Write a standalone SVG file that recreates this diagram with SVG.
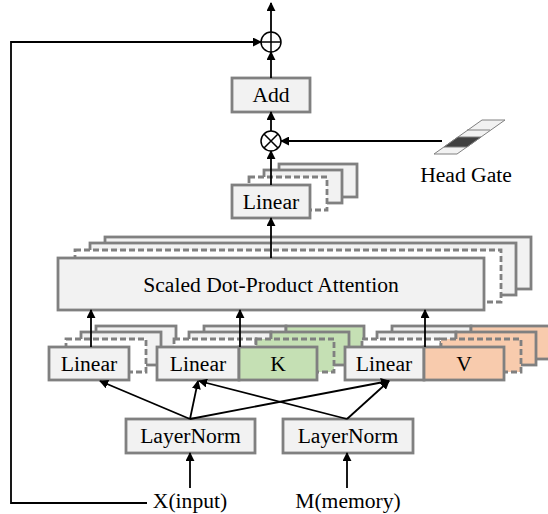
<svg xmlns="http://www.w3.org/2000/svg" width="548" height="514" viewBox="0 0 548 514">
<defs>
<style>
.b{fill:#f2f2f2;stroke:#808080;stroke-width:2.8}
.d{fill:#ffffff;stroke:#808080;stroke-width:2.8;stroke-dasharray:6 3}
.g{fill:#c5e0b4;stroke:#808080;stroke-width:2.8}
.gd{fill:#c5e0b4;stroke:#808080;stroke-width:2.8;stroke-dasharray:6 3}
.p{fill:#f8cbad;stroke:#808080;stroke-width:2.8}
.pd{fill:#f8cbad;stroke:#808080;stroke-width:2.8;stroke-dasharray:6 3}
.t{font-family:"Liberation Serif","Times New Roman",serif;font-size:21.6px;fill:#000;text-anchor:middle}
.a{fill:none;stroke:#000;stroke-width:1.8;marker-end:url(#ah)}
</style>
<marker id="ah" viewBox="0 0 10 10" refX="9" refY="5" markerWidth="5" markerHeight="5" orient="auto" markerUnits="strokeWidth">
<path d="M0,0 L10,5 L0,10 z" fill="#000"/>
</marker>
</defs>

<g id="attention">
<rect class="b" x="105" y="237" width="426" height="52"/>
<rect class="b" x="90" y="243" width="426" height="52"/>
<rect class="d" x="75" y="250" width="426" height="52"/>
<rect class="b" x="58" y="258" width="426" height="52"/>
<text class="t" x="271" y="292">Scaled Dot-Product Attention</text>
</g>

<g id="linear-out">
<rect class="b" x="279" y="164" width="78" height="33"/>
<rect class="b" x="264" y="170" width="78" height="33"/>
<rect class="d" x="249" y="177" width="78" height="33"/>
<rect class="b" x="232" y="185" width="78" height="33"/>
<text class="t" x="271" y="209">Linear</text>
</g>

<g id="add">
<rect class="b" x="232" y="78" width="78" height="34"/>
<text class="t" x="271" y="102">Add</text>
</g>

<g id="plus">
<circle cx="271" cy="42" r="10" fill="#fff" stroke="#000" stroke-width="1.5"/>
<path d="M261,42 H281 M271,32 V52" stroke="#000" stroke-width="1.5"/>
</g>

<g id="times">
<circle cx="271" cy="141" r="10" fill="#fff" stroke="#000" stroke-width="1.5"/>
<path d="M264,134 L278,148 M278,134 L264,148" stroke="#000" stroke-width="1.5"/>
</g>

<g id="head-gate">
<polygon points="434,154 457,154 505,120 482,120" fill="#f2f2f2" stroke="#808080" stroke-width="1"/>
<polygon points="444,147 467,147 481,137 458,137" fill="#404040" stroke="#808080" stroke-width="1"/>
<line x1="467" y1="130" x2="490" y2="130" stroke="#808080" stroke-width="1"/>
<text class="t" x="466" y="182">Head Gate</text>
</g>

<g id="linear-q">
<rect class="b" x="96" y="326" width="80" height="33"/>
<rect class="b" x="81" y="332" width="80" height="33"/>
<rect class="d" x="66" y="339" width="80" height="33"/>
<rect class="b" x="49" y="347" width="80" height="33"/>
<text class="t" x="89" y="371">Linear</text>
</g>

<g id="linear-k">
<rect class="b" x="204" y="326" width="82" height="33"/>
<rect class="g" x="286" y="326" width="78" height="33"/>
<rect class="b" x="189" y="332" width="82" height="33"/>
<rect class="g" x="271" y="332" width="78" height="33"/>
<rect class="d" x="174" y="339" width="82" height="33"/>
<rect class="gd" x="256" y="339" width="78" height="33"/>
<rect class="b" x="157" y="347" width="82" height="33"/>
<rect class="g" x="239" y="347" width="78" height="33"/>
<text class="t" x="198" y="371">Linear</text>
<text class="t" x="278" y="371">K</text>
</g>

<g id="linear-v">
<rect class="b" x="392" y="326" width="79" height="33"/>
<rect class="p" x="471" y="326" width="80" height="33"/>
<rect class="b" x="377" y="332" width="79" height="33"/>
<rect class="p" x="456" y="332" width="80" height="33"/>
<rect class="d" x="362" y="339" width="79" height="33"/>
<rect class="pd" x="441" y="339" width="80" height="33"/>
<rect class="b" x="345" y="347" width="79" height="33"/>
<rect class="p" x="424" y="347" width="80" height="33"/>
<text class="t" x="384" y="371">Linear</text>
<text class="t" x="464" y="371">V</text>
</g>

<g id="layernorm-x">
<rect class="b" x="126" y="419" width="129" height="34"/>
<text class="t" x="190.5" y="443">LayerNorm</text>
</g>

<g id="layernorm-m">
<rect class="b" x="283" y="419" width="130" height="34"/>
<text class="t" x="348" y="443">LayerNorm</text>
</g>

<g id="input-x">
<text class="t" x="190" y="508">X(input)</text>
</g>

<g id="input-m">
<text class="t" x="348" y="508">M(memory)</text>
</g>

<g id="connectors">
<line class="a" x1="271" y1="32" x2="271" y2="3"/>
<polyline class="a" points="147,503 11,503 11,42 261,42"/>
<line class="a" x1="271" y1="78" x2="271" y2="52"/>
<line class="a" x1="271" y1="131" x2="271" y2="112"/>
<line class="a" x1="271" y1="185" x2="271" y2="151"/>
<line class="a" x1="271" y1="258" x2="271" y2="218"/>
<line class="a" x1="442" y1="141" x2="281" y2="141"/>
<line class="a" x1="91" y1="347" x2="91" y2="310"/>
<line class="a" x1="240" y1="347" x2="240" y2="310"/>
<line class="a" x1="425" y1="347" x2="425" y2="310"/>
<line class="a" x1="190" y1="419" x2="100" y2="381"/>
<line class="a" x1="190" y1="419" x2="198" y2="381"/>
<line class="a" x1="190" y1="419" x2="389" y2="381"/>
<line class="a" x1="347" y1="419" x2="199" y2="381"/>
<line class="a" x1="347" y1="419" x2="389" y2="381"/>
<line class="a" x1="190" y1="488" x2="190" y2="453"/>
<line class="a" x1="347" y1="488" x2="347" y2="453"/>
</g>
</svg>
